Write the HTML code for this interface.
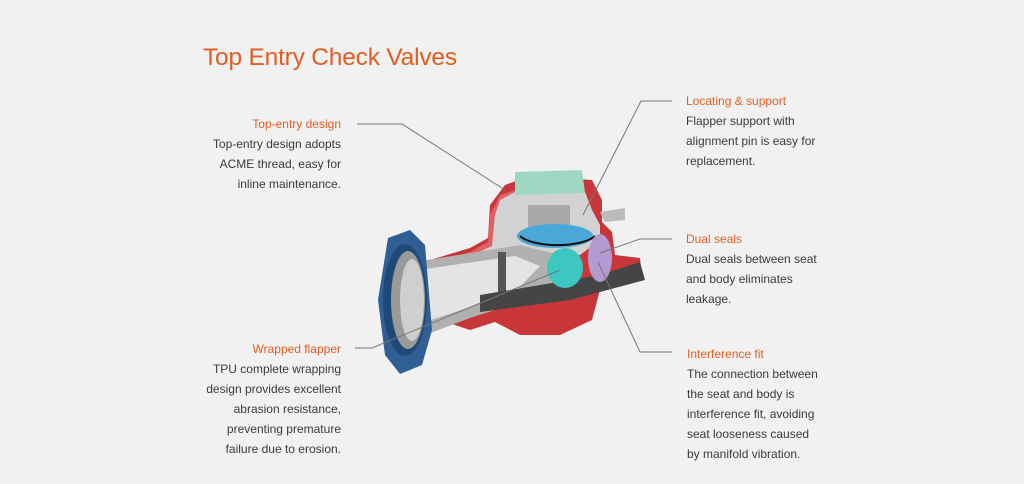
<!DOCTYPE html>
<html><head><meta charset="utf-8"><style>
body{margin:0;width:1024px;height:484px;background:#f1f1f1;font-family:"Liberation Sans",sans-serif;position:relative;overflow:hidden}
.t{position:absolute;left:203px;top:44px;font-size:24.5px;color:#e35d20;letter-spacing:-0.2px}
.b{position:absolute;font-size:12px;line-height:20px;color:#3a3a3a}
.b .h{color:#e35d20}
.r{text-align:right}
svg{position:absolute;left:0;top:0}
</style></head><body>
<div class="t">Top Entry Check Valves</div>
<svg width="1024" height="484">
<!-- body red -->
<path d="M430,260 L470,248 L488,238 L490,205 L505,185 L530,176 L592,180 L602,200 L602,222 L612,232 L615,255 L640,258 L642,278 L600,290 L592,320 L560,335 L520,335 L495,322 L470,330 L440,320 L430,300Z" fill="#c8363a"/>
<path d="M430,265 L470,252 L488,242 L490,215 L500,195 L515,190 L515,260 L440,280Z" fill="#e06065"/>
<!-- grey section -->
<path d="M500,200 L515,192 L585,192 L592,210 L600,225 L600,240 L580,255 L520,262 L450,275 L440,268 L470,256 L492,246 L495,215Z" fill="#d2d2d2"/>
<!-- green cap -->
<path d="M515,172 L582,170 L585,193 L515,195Z" fill="#9fd8c2"/>
<rect x="528" y="205" width="42" height="28" fill="#a8a8a8"/>
<!-- bore -->
<path d="M415,262 L520,245 L560,255 L575,270 L555,292 L510,305 L470,318 L425,335Z" fill="#b0b0b0"/>
<path d="M418,270 L515,256 L540,266 L515,292 L425,322Z" fill="#e4e4e4"/>
<rect x="498" y="252" width="8" height="45" fill="#555"/>
<!-- dark underside -->
<path d="M480,295 L600,275 L640,262 L645,280 L570,300 L480,312Z" fill="#454545"/>
<!-- blue flapper ring -->
<ellipse cx="555" cy="236" rx="38" ry="12" fill="#4aa8d8"/>
<path d="M520,236 A40,14 0 0 0 595,236" fill="none" stroke="#111" stroke-width="2"/>
<ellipse cx="565" cy="268" rx="18" ry="20" fill="#3cc8c0"/>
<ellipse cx="600" cy="258" rx="12" ry="24" fill="#b49ad0"/>
<path d="M600,212 L625,208 L625,220 L605,222Z" fill="#bbb"/>
<!-- blue hammer union -->
<path d="M388,238 L410,230 L425,245 L432,330 L422,365 L400,374 L385,355 L378,300Z" fill="#2f5f94"/>
<ellipse cx="405" cy="300" rx="22" ry="56" fill="#1f4a78"/>
<ellipse cx="408" cy="300" rx="17" ry="49" fill="#9a9a9a"/>
<ellipse cx="412" cy="300" rx="12" ry="41" fill="#cfcfcf"/>
<g fill="none" stroke="#777" stroke-width="1">
<polyline points="357,124 402,124 505,190"/>
<polyline points="672,101 641,101 583,215"/>
<polyline points="672,239 640,239 600,253"/>
<polyline points="672,352 640,352 598,262"/>
<polyline points="355,348 372,348 560,270"/>
</g>
</svg>
<div class="b r" style="right:683px;top:114px"><span class="h">Top-entry design</span><br>Top-entry design adopts<br>ACME thread, easy for<br>inline maintenance.</div>
<div class="b" style="left:686px;top:91px"><span class="h">Locating &amp; support</span><br>Flapper support with<br>alignment pin is easy for<br>replacement.</div>
<div class="b" style="left:686px;top:229px"><span class="h">Dual seals</span><br>Dual seals between seat<br>and body eliminates<br>leakage.</div>
<div class="b r" style="right:683px;top:339px"><span class="h">Wrapped flapper</span><br>TPU complete wrapping<br>design provides excellent<br>abrasion resistance,<br>preventing premature<br>failure due to erosion.</div>
<div class="b" style="left:687px;top:344px"><span class="h">Interference fit</span><br>The connection between<br>the seat and body is<br>interference fit, avoiding<br>seat looseness caused<br>by manifold vibration.</div>
</body></html>
